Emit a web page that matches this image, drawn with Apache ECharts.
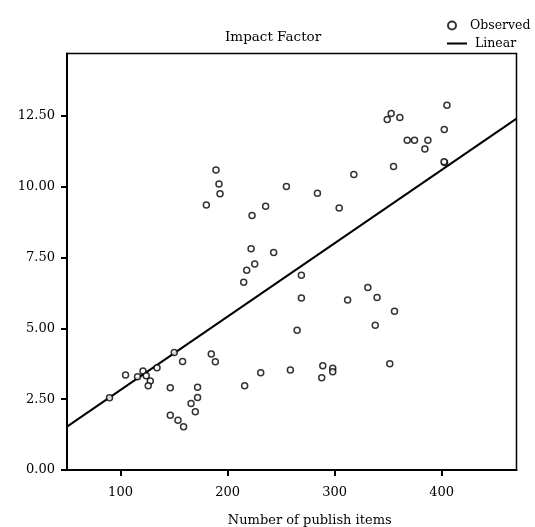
<!DOCTYPE html>
<html>
<head>
<meta charset="utf-8">
<script src="https://cdn.jsdelivr.net/npm/echarts@6/dist/echarts.min.js"></script>
<style>
  html, body { margin: 0; padding: 0; background: #fff; }
  #chart { width: 535px; height: 527px; }
</style>
</head>
<body>
<div id="chart"></div>
<script>
// observed points: publish items (x) vs impact factor (y)
var publishItems = [
  89.7, 104.7, 115.9, 121.0, 124.0, 127.8, 125.9, 134.1, 150.2, 158.0,
  146.5, 146.5, 153.7, 158.9, 165.9, 169.9, 172.0, 172.0, 184.8, 188.6,
  189.2, 192.0, 193.0, 180.2, 222.9, 235.6, 255.0, 284.0, 304.3, 222.0,
  243.1, 225.4, 217.9, 215.1, 269.0, 269.0, 265.0, 312.2, 331.1, 339.7,
  338.0, 356.0, 351.6, 231.0, 216.0, 258.7, 289.0, 298.3, 298.3, 288.0,
  405.0, 402.5, 352.9, 349.2, 361.0, 367.9, 374.7, 387.2, 384.4, 355.1,
  318.0, 402.8, 402.3
];
var impactFactor = [
  2.55, 3.35, 3.29, 3.49, 3.33, 3.14, 2.97, 3.61, 4.15, 3.83,
  2.90, 1.93, 1.76, 1.53, 2.35, 2.06, 2.56, 2.92, 4.09, 3.82,
  10.59, 10.09, 9.75, 9.35, 8.98, 9.31, 10.01, 9.77, 9.25, 7.81,
  7.68, 7.27, 7.05, 6.63, 6.87, 6.07, 4.93, 6.00, 6.44, 6.09,
  5.11, 5.60, 3.75, 3.43, 2.97, 3.53, 3.68, 3.59, 3.47, 3.26,
  12.87, 12.02, 12.58, 12.37, 12.44, 11.64, 11.64, 11.64, 11.33, 10.71,
  10.43, 10.85, 10.88
];

// fitted linear line, read at the two plot edges
var linearX = [50, 470];
var linearY = [1.53, 12.40];

var xTicks = [100, 200, 300, 400];
var yTicks = [0, 2.5, 5, 7.5, 10, 12.5];

var FONT = "DejaVu Serif";

var chart = echarts.init(document.getElementById("chart"), null, { renderer: "canvas" });

var observed = publishItems.map(function (x, i) {
  return [x, impactFactor[i]];
});
var linear = linearX.map(function (x, i) {
  return [x, linearY[i]];
});

var legendText = {
  fontFamily: FONT,
  fontSize: 12.5,
  color: "#000",
  padding: [0, 0, 0, 3]
};

chart.setOption({
  animation: false,
  backgroundColor: "#fff",
  title: {
    text: "Impact Factor",
    left: 220,
    top: 25,
    textStyle: {
      fontFamily: FONT,
      fontSize: 13.5,
      fontWeight: "normal",
      color: "#000"
    }
  },
  // two legends so the marker and the line can have their own icon size
  legend: [
    {
      left: 442,
      top: 14,
      itemWidth: 20,
      itemHeight: 8,
      textStyle: legendText,
      data: [{ name: "Observed", icon: "circle" }]
    },
    {
      left: 442,
      top: 32,
      itemWidth: 20,
      itemHeight: 2,
      textStyle: legendText,
      data: [{ name: "Linear", icon: "rect" }]
    }
  ],
  grid: {
    left: 67,
    right: 18.5,
    top: 53.5,
    bottom: 57,
    containLabel: false,
    outerBoundsMode: "none",
    show: true,
    borderColor: "#000",
    borderWidth: 1.5
  },
  xAxis: {
    type: "value",
    min: 50,
    max: 470,
    name: "Number of publish items",
    nameLocation: "middle",
    nameGap: 44,
    nameTextStyle: {
      fontFamily: FONT,
      fontSize: 13,
      color: "#000",
      padding: [0, 0, 0, 36]
    },
    axisLine: { show: true, lineStyle: { color: "#000", width: 2 } },
    axisTick: {
      show: true,
      length: 6,
      customValues: xTicks,
      lineStyle: { color: "#000", width: 2 }
    },
    axisLabel: {
      customValues: xTicks,
      margin: 16,
      fontFamily: FONT,
      fontSize: 13,
      color: "#000"
    },
    splitLine: { show: false }
  },
  yAxis: {
    type: "value",
    min: 0,
    max: 14.7,
    axisLine: { show: true, lineStyle: { color: "#000", width: 2 } },
    axisTick: {
      show: true,
      length: 6,
      customValues: yTicks,
      lineStyle: { color: "#000", width: 2 }
    },
    axisLabel: {
      customValues: yTicks,
      margin: 12,
      fontFamily: FONT,
      fontSize: 13,
      color: "#000",
      formatter: function (v) {
        return v.toFixed(2);
      }
    },
    splitLine: { show: false }
  },
  series: [
    {
      name: "Observed",
      type: "scatter",
      symbol: "circle",
      symbolSize: 6,
      itemStyle: {
        color: "#fff",
        borderColor: "#000",
        borderWidth: 1.5
      },
      data: observed,
      z: 3
    },
    {
      name: "Linear",
      type: "line",
      symbol: "none",
      showSymbol: false,
      lineStyle: { color: "#000", width: 2 },
      itemStyle: { color: "#000" },
      data: linear,
      z: 2
    }
  ]
});
</script>
</body>
</html>
